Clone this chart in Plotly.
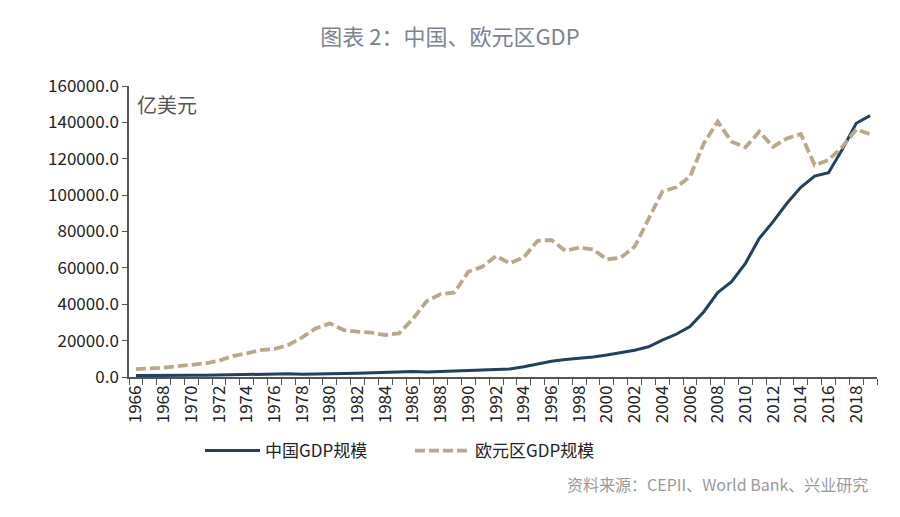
import plotly.graph_objects as go

years = list(range(1966, 2020))

china_gdp = [767, 727, 708, 797, 926, 998, 1137, 1385, 1441, 1634,
             1539, 1750, 1496, 1783, 1911, 1960, 2050, 2306, 2599, 3094,
             3008, 2729, 3123, 3477, 3609, 3834, 4269, 4447, 5643, 7340,
             8637, 9615, 10290, 10940, 12113, 13394, 14706, 16603, 20300, 23500,
             27700, 35900, 46400, 52400, 62500, 76200, 85400, 95500, 104300, 110500,
             112300, 125200, 139500, 143700]

euro_gdp = [4300, 4600, 5100, 5900, 6600, 7500, 9000, 11500, 13000, 14800,
            15400, 17600, 21800, 26800, 29500, 25800, 24900, 24400, 23100, 24000,
            32000, 41800, 45600, 46500, 57900, 60600, 66500, 62500, 65800, 74900,
            75300, 69400, 71100, 70200, 64700, 65600, 71600, 86300, 101900, 104300,
            110100, 128500, 140400, 129400, 126300, 134900, 126600, 131200, 133600, 116500,
            119300, 126600, 136100, 133600]

x_tick_labels = [str(y) for y in range(1966, 2019, 2)]
y_tick_vals = list(range(0, 160001, 20000))

font_family = "Noto Sans CJK SC, Noto Sans, sans-serif"

W, H = 900, 517
L, R, T, B = 129, 23, 86, 140
PW, PH = W - L - R, H - T - B

fig = go.Figure()
fig.add_trace(go.Scatter(
    x=years, y=china_gdp, mode="lines", name="中国GDP规模",
    line=dict(color="#22405f", width=3),
))
fig.add_trace(go.Scatter(
    x=years, y=euro_gdp, mode="lines", name="欧元区GDP规模",
    line=dict(color="#b9a98a", width=3.8, dash="10px,4px"),
))

fig.update_layout(
    width=W, height=H,
    paper_bgcolor="white", plot_bgcolor="white",
    margin=dict(l=L, r=R, t=T, b=B),
    font=dict(family=font_family, color="#222222"),
    title=dict(text="图表 2：中国、欧元区GDP", x=0.5, xanchor="center",
               y=1 - 37 / H, yref="container", yanchor="middle",
               font=dict(size=22, color="#7b8491", family=font_family)),
    showlegend=True,
    legend=dict(orientation="h", x=(200 - L) / PW, xanchor="left",
                y=(377 - 451) / PH, yanchor="middle",
                font=dict(size=17, color="#222222"), itemwidth=55,
                bgcolor="rgba(0,0,0,0)", entrywidth=140),
    xaxis=dict(
        range=[1965.5, 2019.5],
        tickmode="array", tickvals=list(range(1966, 2019, 2)), ticktext=x_tick_labels,
        tickangle=-90, ticks="outside", ticklen=0, tickcolor="#555555",
        tickfont=dict(size=17, color="#222222"),
        showline=True, linecolor="#555555", linewidth=1.5,
        showgrid=False, zeroline=False,
        minor=dict(tickmode="linear", tick0=1965.5, dtick=1, ticks="outside",
                   ticklen=6, tickcolor="#555555", tickwidth=1.2, showgrid=False),
    ),
    yaxis=dict(
        range=[0, 160000],
        tickmode="array", tickvals=y_tick_vals,
        ticktext=[f"{v}.0" for v in y_tick_vals],
        ticks="outside", ticklen=5, tickcolor="#555555",
        tickfont=dict(size=17, color="#222222"),
        showline=True, linecolor="#555555", linewidth=1.5,
        showgrid=False, zeroline=False,
    ),
    annotations=[
        dict(text="亿美元", x=6 / PW, y=(377 - 88) / PH, xref="paper", yref="paper",
             xanchor="left", yanchor="top", showarrow=False,
             font=dict(size=20, color="#555555")),
        dict(text="资料来源：CEPII、World Bank、兴业研究",
             x=(870 - L) / PW, y=(377 - 484) / PH,
             xref="paper", yref="paper", xanchor="right", yanchor="middle",
             showarrow=False, font=dict(size=16, color="#9a9a9a")),
    ],
)

fig.write_html("out.html", config={"displayModeBar": False},
               post_script="document.body.style.margin='0';")
